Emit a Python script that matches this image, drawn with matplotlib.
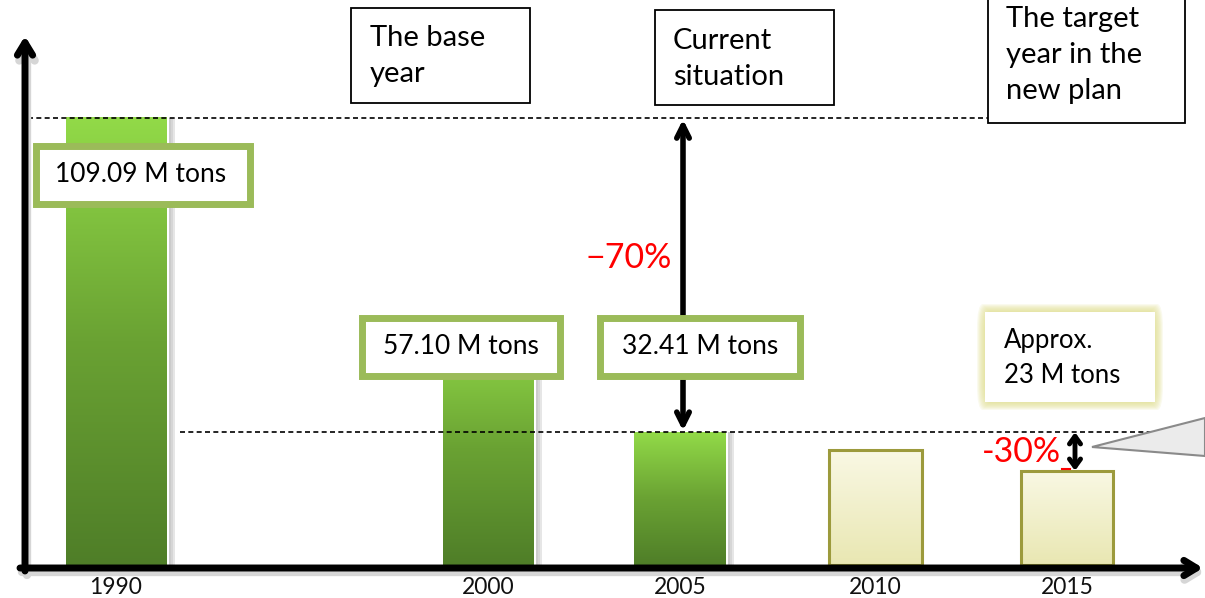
import numpy as np
import matplotlib.pyplot as plt
from matplotlib.patches import Rectangle, FancyBboxPatch, Polygon
from matplotlib.colors import LinearSegmentedColormap

plt.rcParams['font.family'] = ['Lato', 'DejaVu Sans']

# emissions per year (million tons)
years = ['1990', '2000', '2005', '2010', '2015']
emissions = [109.09, 57.10, 32.41, 28.0, 23.0]
planned = [False, False, False, True, True]
value_labels = ['109.09 M tons', '57.10 M tons', '32.41 M tons', None, 'Approx.\n23 M tons']
drop_2005 = '\u221270%'
drop_2015 = '-30%'

W, H = 1205, 598
BASE = 565                  # pixel row of the zero line
UNIT = 109.09 / 447         # tons per pixel


def yv(py):
    # pixel row -> value units
    return (BASE - py) * UNIT


fig = plt.figure(figsize=(W / 100, H / 100), dpi=100)
ax = fig.add_axes([0, 0, 1, 1])
ax.set_xlim(0, W)
ax.set_ylim(yv(H), yv(0))
ax.axis('off')

green = LinearSegmentedColormap.from_list('g', ['#4f7e28', '#6aa233', '#92da48'])
cream = LinearSegmentedColormap.from_list('c', ['#e9e7b2', '#f9f8e4'])
grad = np.linspace(0, 1, 256).reshape(-1, 1)

bar_x = [116, 488, 680, 875, 1067]
bar_w = [101, 91, 92, 93, 92]

for x, w, v, plan in zip(bar_x, bar_w, emissions, planned):
    x0 = x - w / 2
    if not plan:
        # soft shadow on the right side
        for k, a in enumerate([0.08, 0.10, 0.14]):
            ax.add_patch(Rectangle((x0 + 4 + k * 2, 0), w, v, fc='#505050',
                                   alpha=a, lw=0, zorder=1))
        ax.add_patch(Rectangle((x0 - 2, -0.4), w + 4, v + 0.9, fc='white',
                               lw=0, zorder=2))
        ax.imshow(grad, extent=[x0, x0 + w, 0, v], origin='lower',
                  aspect='auto', cmap=green, zorder=3)
    else:
        ax.imshow(grad, extent=[x0, x0 + w, 0, v], origin='lower',
                  aspect='auto', cmap=cream, zorder=3)
        ax.add_patch(Rectangle((x0, 0), w, v, fc='none', ec='#9c9a3c',
                               lw=2.2, zorder=4))

ax.set_xlim(0, W)
ax.set_ylim(yv(H), yv(0))

# year labels under the axis
for x, yr in zip(bar_x, years):
    ax.text(x, yv(587), yr, ha='center', va='center', fontsize=16.5, color='#111111')

# axes drawn as arrows, with a faint shadow
arrow_head = '->,head_length=0.9,head_width=0.55'
for dx, dy, col, lw in [(2, 4, '#d6d6d6', 6), (0, 0, 'black', 5)]:
    ax.annotate('', xy=(1203 + dx, yv(568 + dy)), xytext=(20 + dx, yv(568 + dy)),
                arrowprops=dict(arrowstyle=arrow_head, lw=lw, color=col,
                                shrinkA=0, shrinkB=0), zorder=6)
    ax.annotate('', xy=(25 + dx, yv(36 + dy)), xytext=(25 + dx, yv(571 + dy)),
                arrowprops=dict(arrowstyle=arrow_head, lw=lw, color=col,
                                shrinkA=0, shrinkB=0), zorder=6)

# reference levels
ax.plot([28, 990], [emissions[0], emissions[0]], ls=(0, (3, 2)), lw=1.2,
        color='black', zorder=5)
ax.plot([180, 1155], [emissions[2], emissions[2]], ls=(0, (3, 2)), lw=1.2,
        color='black', zorder=5)

# reduction arrows
ax.annotate('', xy=(683, emissions[2]), xytext=(683, emissions[0]),
            arrowprops=dict(arrowstyle='<->,head_length=0.9,head_width=0.45',
                            lw=4, color='black', shrinkA=1, shrinkB=1), zorder=7)
ax.annotate('', xy=(1075, emissions[4]), xytext=(1075, emissions[2]),
            arrowprops=dict(arrowstyle='<->,head_length=0.55,head_width=0.4',
                            lw=3.5, color='black', shrinkA=0, shrinkB=0), zorder=7)
ax.text(672, yv(258), drop_2005, ha='right', va='center', fontsize=24.5, color='red')
ax.text(1061, yv(452), drop_2015, ha='right', va='center', fontsize=24.5, color='red')
ax.plot([1062, 1070], [yv(469), yv(469)], color='red', lw=1.5, zorder=7)

# callout wedge at the right edge
ax.add_patch(Polygon([(1092, yv(447)), (1205, yv(418)), (1205, yv(456))],
                     closed=True, fc='#ebebeb', ec='#8a8a8a', lw=1.5, zorder=5))


def box(x0, y0, x1, y1, ec='black', lw=1.3, z=8):
    ax.add_patch(Rectangle((x0, yv(y1)), x1 - x0, yv(y0) - yv(y1), fc='white',
                           ec=ec, lw=lw, zorder=z))


# value boxes
box(36, 146, 250, 204, ec='#9bbb59', lw=5)
ax.text(141, yv(174), value_labels[0], ha='center', va='center', fontsize=19, zorder=9)
box(362, 318, 560, 376, ec='#9bbb59', lw=5)
ax.text(461, yv(347), value_labels[1], ha='center', va='center', fontsize=19, zorder=9)
box(600, 318, 800, 376, ec='#9bbb59', lw=5)
ax.text(700, yv(347), value_labels[2], ha='center', va='center', fontsize=19, zorder=9)

# glowing box for the 2015 estimate
for k in range(8, 0, -1):
    ax.add_patch(FancyBboxPatch((985 - k, yv(402 + k)), 170 + 2 * k,
                                yv(312) - yv(402) + 2 * k * UNIT,
                                boxstyle='round,pad=0,rounding_size=6',
                                fc='#dedd88', ec='none', alpha=0.14, zorder=7))
box(985, 312, 1155, 402, ec='none', lw=0)
ax.text(1004, yv(358), value_labels[4], ha='left', va='center', fontsize=18.5,
        linespacing=1.5, zorder=9)

# period captions
box(351, 8, 530, 103)
ax.text(370, yv(56), 'The base\nyear', ha='left', va='center', fontsize=21,
        linespacing=1.5, zorder=9)
box(655, 10, 834, 105)
ax.text(673, yv(59), 'Current\nsituation', ha='left', va='center', fontsize=21,
        linespacing=1.5, zorder=9)
box(988, -10, 1185, 123)
ax.text(1006, yv(55), 'The target\nyear in the\nnew plan', ha='left', va='center',
        fontsize=21, linespacing=1.5, zorder=9)

fig.savefig('out.png', dpi=100, facecolor='white')
